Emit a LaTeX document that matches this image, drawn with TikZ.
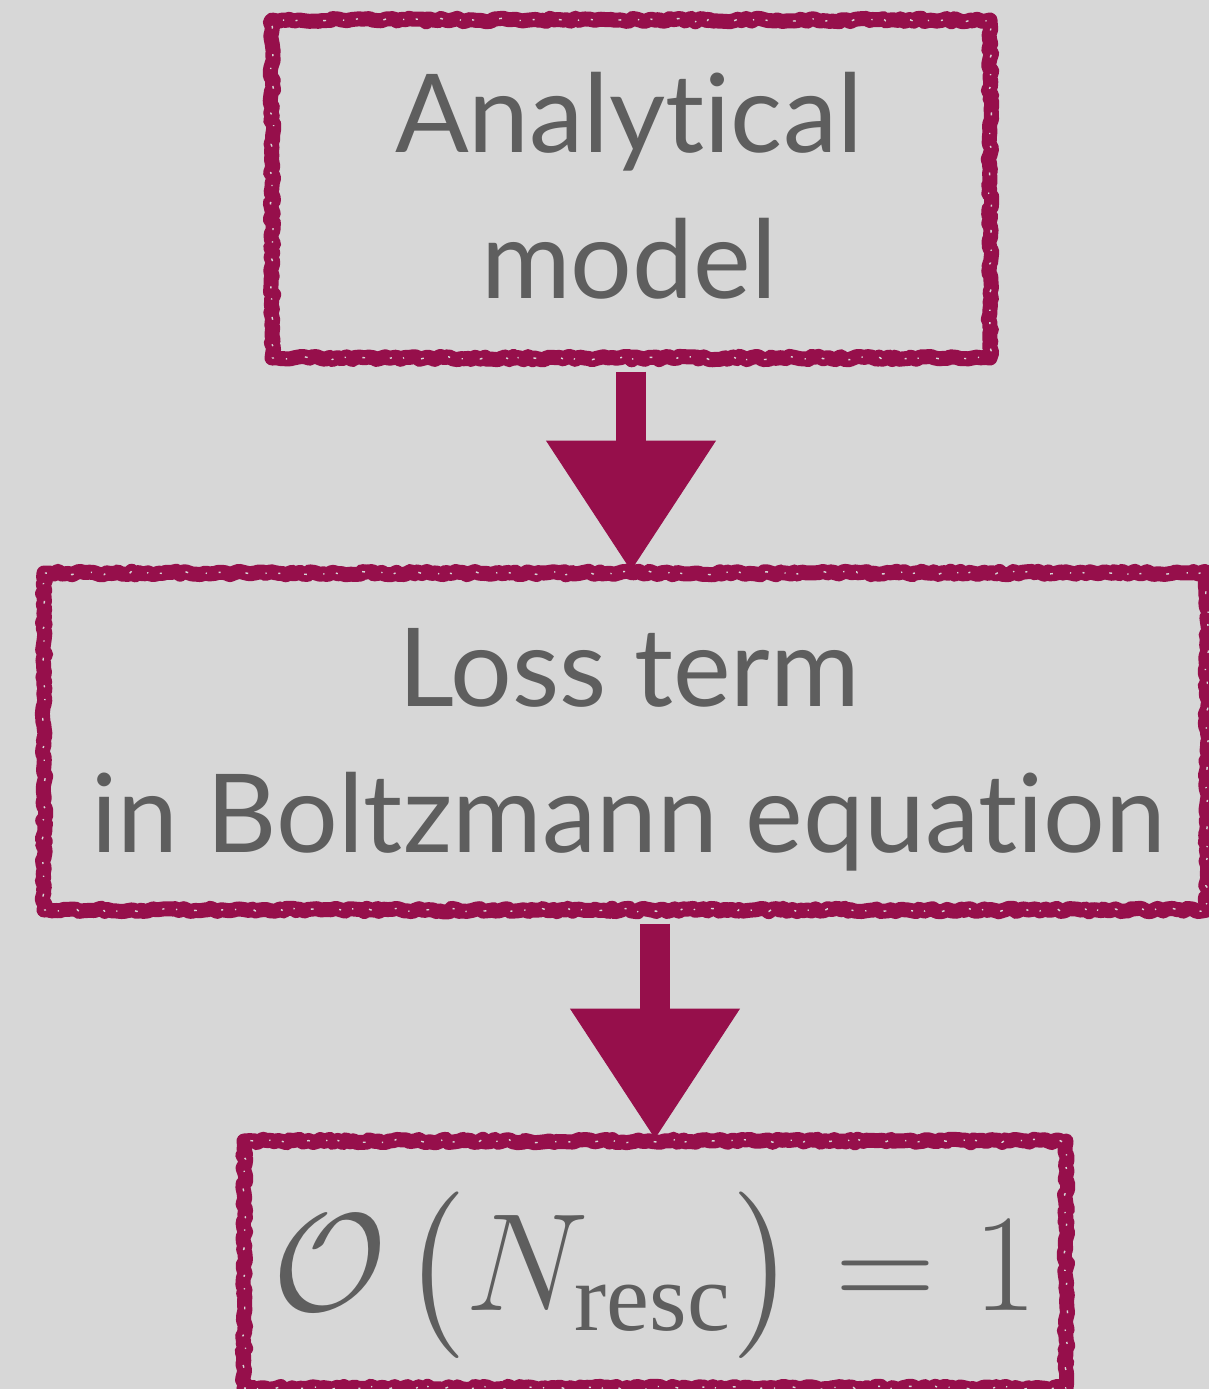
\documentclass[tikz,border=0pt]{standalone}
\usepackage{amsmath}
\usepackage{fontspec}
\setmainfont{Liberation Serif}
\newfontfamily\labelfont[Ligatures=NoCommon]{Lato}
\usetikzlibrary{arrows.meta,decorations.pathmorphing}
\definecolor{bg}{RGB}{215,215,215}
\definecolor{crim}{RGB}{150,15,75}
\definecolor{txt}{RGB}{94,94,94}
\begin{document}
\begin{tikzpicture}[x=0.5pt,y=-0.5pt,
  chalkbox/.style={rectangle, inner sep=0pt, outer sep=3.75pt, draw=crim, line width=7.5pt, line join=round,
    decorate, decoration={random steps, segment length=2pt, amplitude=0.9pt},
    postaction={draw=bg, line width=0.7pt, dash pattern=on 1pt off 6pt on 0.6pt off 9pt on 1.4pt off 13pt}},
  lbl/.style={text=txt, font=\labelfont\fontsize{54.5pt}{73pt}\selectfont, align=center, inner sep=0pt},
  mathlbl/.style={text=txt, font=\fontsize{20.74pt}{25pt}\selectfont, inner sep=0pt, scale=3.35},
  fatarrow/.style={draw=crim, line width=15pt, -{Triangle[length=65pt, width=85pt, line width=0.5pt]}, shorten <=3pt, shorten >=-2.5pt}
]
\pgfmathsetseed{11}
\fill[bg] (0,0) rectangle (1209,1389);
\useasboundingbox (0,0) rectangle (1209,1389);
\clip (0,0) rectangle (1209,1389);

\node[chalkbox, minimum width=359pt, minimum height=169pt] (box1) at (631,189) {};
\node[chalkbox, minimum width=581.5pt, minimum height=168.5pt] (box2) at (625.5,741.5) {};
\node[chalkbox, minimum width=411pt, minimum height=123.5pt] (box3) at (655,1264.5) {};

\node[lbl] (t1) at (629,186) {Analytical\\model};
\node[lbl] (t2) at (629,750) {Loss term\\in Boltzmann equation};
\node[mathlbl, anchor=base] (t3) at (655,1310) {$\mathcal{O}\mkern2mu\bigl(N_{\mathrm{resc}}\bigr)=1$};

\draw[fatarrow] (box1.south) -- (box1.south |- box2.north);
\draw[fatarrow] (box3.north |- box2.south) -- (box3.north);
\end{tikzpicture}
\end{document}
